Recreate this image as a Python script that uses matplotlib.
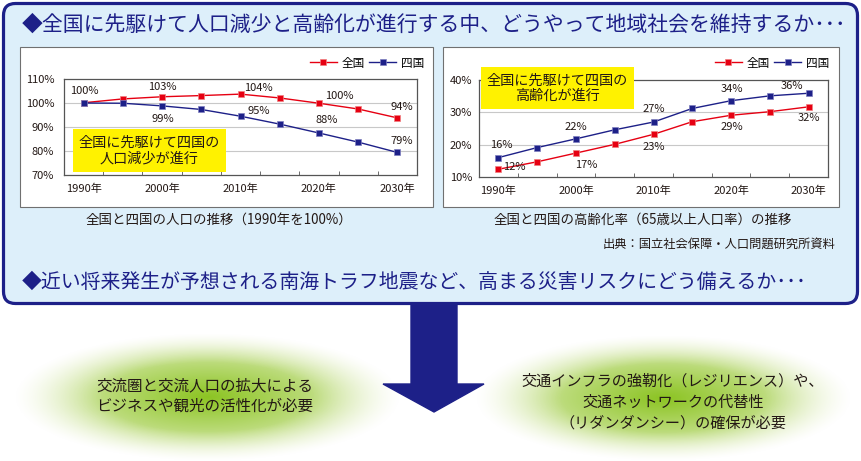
import numpy as np
import matplotlib
matplotlib.use('Agg')
import matplotlib.pyplot as plt
from matplotlib.patches import FancyBboxPatch, Rectangle, Polygon

plt.rcParams['font.family'] = ['Noto Sans CJK JP', 'DejaVu Sans']

# --- data ---
years = ['1990', '1995', '2000', '2005', '2010', '2015', '2020', '2025', '2030']
year_labels = ['1990年', '', '2000年', '', '2010年', '', '2020年', '', '2030年']

pop_zenkoku = [100.1, 101.7, 102.6, 103.1, 103.7, 102.1, 99.9, 97.5, 93.8]
pop_shikoku = [100.0, 99.9, 98.8, 97.3, 94.5, 91.2, 87.5, 83.7, 79.4]
pop_ticks = [70, 80, 90, 100, 110]

aging_zenkoku = [12.4, 14.7, 17.4, 20.1, 23.2, 27.1, 29.1, 30.2, 31.7]
aging_shikoku = [16.0, 19.1, 21.8, 24.6, 27.0, 31.2, 33.6, 35.1, 35.9]
aging_ticks = [10, 20, 30, 40]

# label text and offsets (px) for selected points
pop_z_labels = {0: ('100%', 1, 12), 2: ('103%', 0, 10), 4: ('104%', 18, 6), 6: ('100%', 20, 7), 8: ('94%', 4, 11)}
pop_s_labels = {2: ('99%', 1, -13), 4: ('95%', 18, 5), 6: ('88%', 8, 13), 8: ('79%', 4, 11)}
aging_z_labels = {0: ('12%', 16, 2), 2: ('17%', 10, -12), 4: ('23%', 0, -13), 6: ('29%', 1, -12), 8: ('32%', 0, -11)}
aging_s_labels = {0: ('16%', 3, 13), 2: ('22%', 0, 12), 4: ('27%', 0, 13), 6: ('34%', 1, 12), 8: ('36%', -17, 7)}

RED = '#E60012'
NAVY = '#1D2088'
TXT = '#231815'
W, H = 861, 461

fig = plt.figure(figsize=(W / 100, H / 100), dpi=100)


def pixel_axes(z):
    a = fig.add_axes([0, 0, 1, 1], zorder=z)
    a.set_xlim(0, W)
    a.set_ylim(H, 0)
    a.axis('off')
    a.patch.set_alpha(0)
    return a


# background canvas in pixel coordinates
bg = pixel_axes(0)

# glowing ellipses
def glow(cx, cy, w, h):
    xs = np.linspace(-1, 1, 300)
    ys = np.linspace(-1, 1, 120)
    X, Y = np.meshgrid(xs, ys)
    r = np.sqrt(X ** 2 + Y ** 2)
    t = np.clip(1 - r, 0, 1) ** 0.85
    green = np.array([140, 196, 35]) / 255
    edge = np.array([238, 244, 215]) / 255
    col = edge[None, None, :] * (1 - t[..., None]) + green[None, None, :] * t[..., None]
    alpha = np.clip((1 - r) * 2.2, 0, 1)
    img = np.dstack([col, alpha])
    bg.imshow(img, extent=(cx - w / 2, cx + w / 2, cy + h / 2, cy - h / 2), zorder=1, aspect='auto')

glow(207, 397, 385, 128)
glow(663, 398, 375, 126)
bg.set_xlim(0, W)
bg.set_ylim(H, 0)

# arrow
bg.add_patch(Polygon([(411, 300), (457, 300), (457, 384), (484, 384), (434, 412),
                      (383, 384), (411, 384)], closed=True, color=NAVY, zorder=2))

# outer box
bg.add_patch(FancyBboxPatch((3.5, 3.5), 854, 300, boxstyle='round,pad=0,rounding_size=12',
                            fc='#DDEFFA', ec=NAVY, lw=2.3, zorder=3))
# chart panels
bg.add_patch(Rectangle((20, 47), 413, 160, fc='white', ec='#707070', lw=0.8, zorder=4))
bg.add_patch(Rectangle((443, 47), 396, 160, fc='white', ec='#707070', lw=0.8, zorder=4))

bg.text(22, 25, '◆全国に先駆けて人口減少と高齢化が進行する中、どうやって地域社会を維持するか･･･',
        fontsize=15.0, color=NAVY, va='center', ha='left', zorder=5)
bg.text(22, 282, '◆近い将来発生が予想される南海トラフ地震など、高まる災害リスクにどう備えるか･･･',
        fontsize=14.3, color=NAVY, va='center', ha='left', zorder=5)
bg.text(219, 220, '全国と四国の人口の推移（1990年を100%）', fontsize=9.7, color=TXT,
        ha='center', va='center', zorder=5)
bg.text(643, 220, '全国と四国の高齢化率（65歳以上人口率）の推移', fontsize=9.7, color=TXT,
        ha='center', va='center', zorder=5)
bg.text(835, 244, '出典：国立社会保障・人口問題研究所資料', fontsize=8.8, color=TXT,
        ha='right', va='center', zorder=5)
bg.text(205, 396, '交流圏と交流人口の拡大による\nビジネスや観光の活性化が必要', fontsize=11.2,
        color=TXT, ha='center', va='center', linespacing=1.25, zorder=5)
bg.text(673, 402, '交通インフラの強靭化（レジリエンス）や、\n交通ネットワークの代替性\n（リダンダンシー）の確保が必要',
        fontsize=10.9, color=TXT, ha='center', va='center', linespacing=1.3, zorder=5)

notes = []


def make_chart(box, z, s, ylim, yticks, zl, sl, legend_x, note, note_box, ypad):
    l, t, r, b = box
    ax = fig.add_axes([l / W, 1 - b / H, (r - l) / W, (b - t) / H], zorder=1)
    x = np.arange(len(years))
    lz, = ax.plot(x, z, color=RED, lw=1, marker='s', ms=5, mec='#F08080', mew=0.5, label='全国', zorder=3)
    ls, = ax.plot(x, s, color=NAVY, lw=1, marker='s', ms=5, mec='#8080C0', mew=0.5, label='四国', zorder=3)
    ax.set_xlim(-0.5, len(years) - 0.5)
    ax.set_ylim(*ylim)
    ax.set_yticks(yticks)
    ax.set_yticklabels([f'{v}%' for v in yticks])
    ax.set_xticks(x)
    ax.set_xticklabels(year_labels)
    ax.set_xticks(np.arange(0.5, len(years) - 1, 1), minor=True)
    ax.tick_params(axis='x', which='major', length=0, pad=6, labelsize=8, colors=TXT)
    ax.tick_params(axis='x', which='minor', length=3, direction='in', color='#555555')
    ax.tick_params(axis='y', length=0, pad=ypad, labelsize=8, colors=TXT)
    for yv in yticks[1:-1]:
        ax.axhline(yv, color='#C8C8C8', lw=0.8, zorder=1)
    for sp in ax.spines.values():
        sp.set_color('#555555')
        sp.set_linewidth(0.9)
    for i, (txt, dx, dy) in zl.items():
        ax.annotate(txt, (x[i], z[i]), xytext=(dx, dy), textcoords='offset pixels',
                    ha='center', va='center', fontsize=8, color=TXT, zorder=4)
    for i, (txt, dx, dy) in sl.items():
        ax.annotate(txt, (x[i], s[i]), xytext=(dx, dy), textcoords='offset pixels',
                    ha='center', va='center', fontsize=8, color=TXT, zorder=4)
    ax.legend(handles=[lz, ls], loc='center right', bbox_to_anchor=(legend_x / W, 1 - 63 / H),
              bbox_transform=fig.transFigure, ncol=2, frameon=False, fontsize=8.4,
              handlelength=2.3, handletextpad=0.4, columnspacing=0.4, borderpad=0, borderaxespad=0)
    notes.append((note, note_box))
    return ax


make_chart((64, 79, 417, 175), pop_zenkoku, pop_shikoku, (70, 110), pop_ticks,
           pop_z_labels, pop_s_labels, 424, '全国に先駆けて四国の\n人口減少が進行', (73, 129, 226, 172), 7)
make_chart((479, 80, 828, 177), aging_zenkoku, aging_shikoku, (10, 40), aging_ticks,
           aging_z_labels, aging_s_labels, 829, '全国に先駆けて四国の\n高齢化が進行', (481, 67, 634, 109), 5)

# yellow call-outs on top of the charts
top = pixel_axes(5)
for note, (nl, nt, nr, nb) in notes:
    top.add_patch(Rectangle((nl, nt), nr - nl, nb - nt, fc='#FFF200', ec='none', zorder=6))
    top.text((nl + nr) / 2, (nt + nb) / 2, note, fontsize=10.2, color=TXT, ha='center', va='center',
             linespacing=1.1, zorder=7)

fig.savefig('out.png', dpi=100)
